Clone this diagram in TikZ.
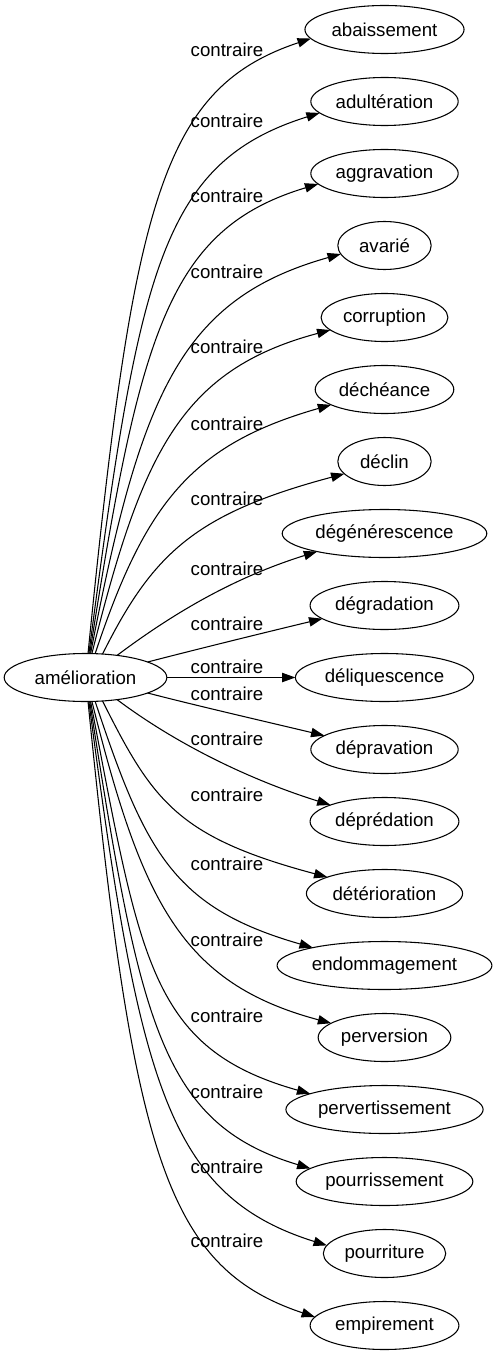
\documentclass[tikz,border=0pt]{standalone}
\usepackage{fontspec}
\setmainfont{Liberation Sans}
\usetikzlibrary{arrows.meta,positioning,shapes.geometric}

\begin{document}
\begin{tikzpicture}[x=0.75pt, y=0.75pt, >={Triangle[length=10pt,width=7pt]}, node distance=18pt, font=\fontsize{14}{16}\selectfont]
  \tikzstyle{word}=[draw, ellipse, line width=0.8pt, outer sep=0pt, inner xsep=2.5pt, inner ysep=2pt, minimum width=70pt, minimum height=36pt]
  \tikzstyle{rel}=[anchor=base, inner sep=0pt]
  \tikzstyle{link}=[->, line width=0.8pt]
  \useasboundingbox (0,0) rectangle (493,-1355);

  \node[word, minimum width=122pt] (amel) at (85.5,-677.5) {amélioration};
  \node[word] (abai) at (384.5,-29.5) {abaissement};
  \node[word, below=of abai] (adul) {adultération};
  \node[word, below=of adul] (aggr) {aggravation};
  \node[word, below=of aggr] (avar) {avarié};
  \node[word, below=of avar] (corr) {corruption};
  \node[word, below=of corr] (dech) {déchéance};
  \node[word, below=of dech] (decl) {déclin};
  \node[word, below=of decl] (dege) {dégénérescence};
  \node[word, below=of dege] (degr) {dégradation};
  \node[word, below=of degr] (deli) {déliquescence};
  \node[word, below=of deli] (depa) {dépravation};
  \node[word, below=of depa] (depr) {déprédation};
  \node[word, below=of depr] (dete) {détérioration};
  \node[word, below=of dete] (endo) {endommagement};
  \node[word, below=of endo] (perv) {perversion};
  \node[word, below=of perv] (pert) {pervertissement};
  \node[word, below=of pert] (pours) {pourrissement};
  \node[word, below=of pours] (pourt) {pourriture};
  \node[word, below=of pourt] (empi) {empirement};

  % upper fan
  \draw[link] (amel.84) .. controls +(45,450) and +(-150,-50) .. (abai.187);
  \node[rel] (l1) at (227,-57) {contraire};
  \draw[link] (amel.82) .. controls +(50,380) and +(-160,-50) .. (adul.190);
  \node[rel] (l2) at (227,-128) {contraire};
  \draw[link] (amel.80) .. controls +(50,320) and +(-150,-45) .. (aggr.189);
  \node[rel] (l3) at (227,-203) {contraire};
  \draw[link] (amel.78) .. controls +(50,260) and +(-160,-45) .. (avar.191);
  \node[rel] (l4) at (227,-278) {contraire};
  \draw[link] (amel.75) .. controls +(50,200) and +(-150,-40) .. (corr.193);
  \node[rel] (l5) at (227,-353) {contraire};
  \draw[link] (amel.68) .. controls +(50,150) and +(-140,-40) .. (dech.196);
  \node[rel] (l6) at (227,-430) {contraire};
  \draw[link] (amel.54) .. controls +(50,100) and +(-150,-40) .. (decl.197);
  \node[rel] (l7) at (227,-505) {contraire};
  \draw[link] (amel.35) .. controls +(60,45) and +(-80,-25) .. (dege.195);
  \node[rel] (l8) at (227,-575) {contraire};
  \draw[link] (amel.14) .. controls +(50,13) and +(-50,-12) .. (degr.192);
  \node[rel] (l9) at (227,-630) {contraire};
  \draw[link] (amel.east) -- (deli.west);
  \node[rel] (l10) at (227,-673) {contraire};

  % lower fan
  \draw[link] (amel.-14) .. controls +(50,-13) and +(-50,12) .. (depa.167);
  \node[rel] (l11) at (227,-700) {contraire};
  \draw[link] (amel.-35) .. controls +(60,-45) and +(-80,25) .. (depr.163);
  \node[rel] (l12) at (227,-745) {contraire};
  \draw[link] (amel.-54) .. controls +(50,-100) and +(-150,40) .. (dete.164);
  \node[rel] (l13) at (227,-801) {contraire};
  \draw[link] (amel.-68) .. controls +(50,-150) and +(-140,40) .. (endo.166);
  \node[rel] (l14) at (227,-870) {contraire};
  \draw[link] (amel.-75) .. controls +(50,-200) and +(-150,40) .. (perv.165);
  \node[rel] (l15) at (227,-946) {contraire};
  \draw[link] (amel.-78) .. controls +(50,-260) and +(-160,45) .. (pert.168);
  \node[rel] (l16) at (227,-1022) {contraire};
  \draw[link] (amel.-80) .. controls +(50,-320) and +(-150,45) .. (pours.170);
  \node[rel] (l17) at (227,-1098) {contraire};
  \draw[link] (amel.-82) .. controls +(50,-380) and +(-160,50) .. (pourt.172);
  \node[rel] (l18) at (227,-1173) {contraire};
  \draw[link] (amel.-84) .. controls +(45,-450) and +(-150,50) .. (empi.173);
  \node[rel] (l19) at (227,-1247) {contraire};
\end{tikzpicture}
\end{document}
